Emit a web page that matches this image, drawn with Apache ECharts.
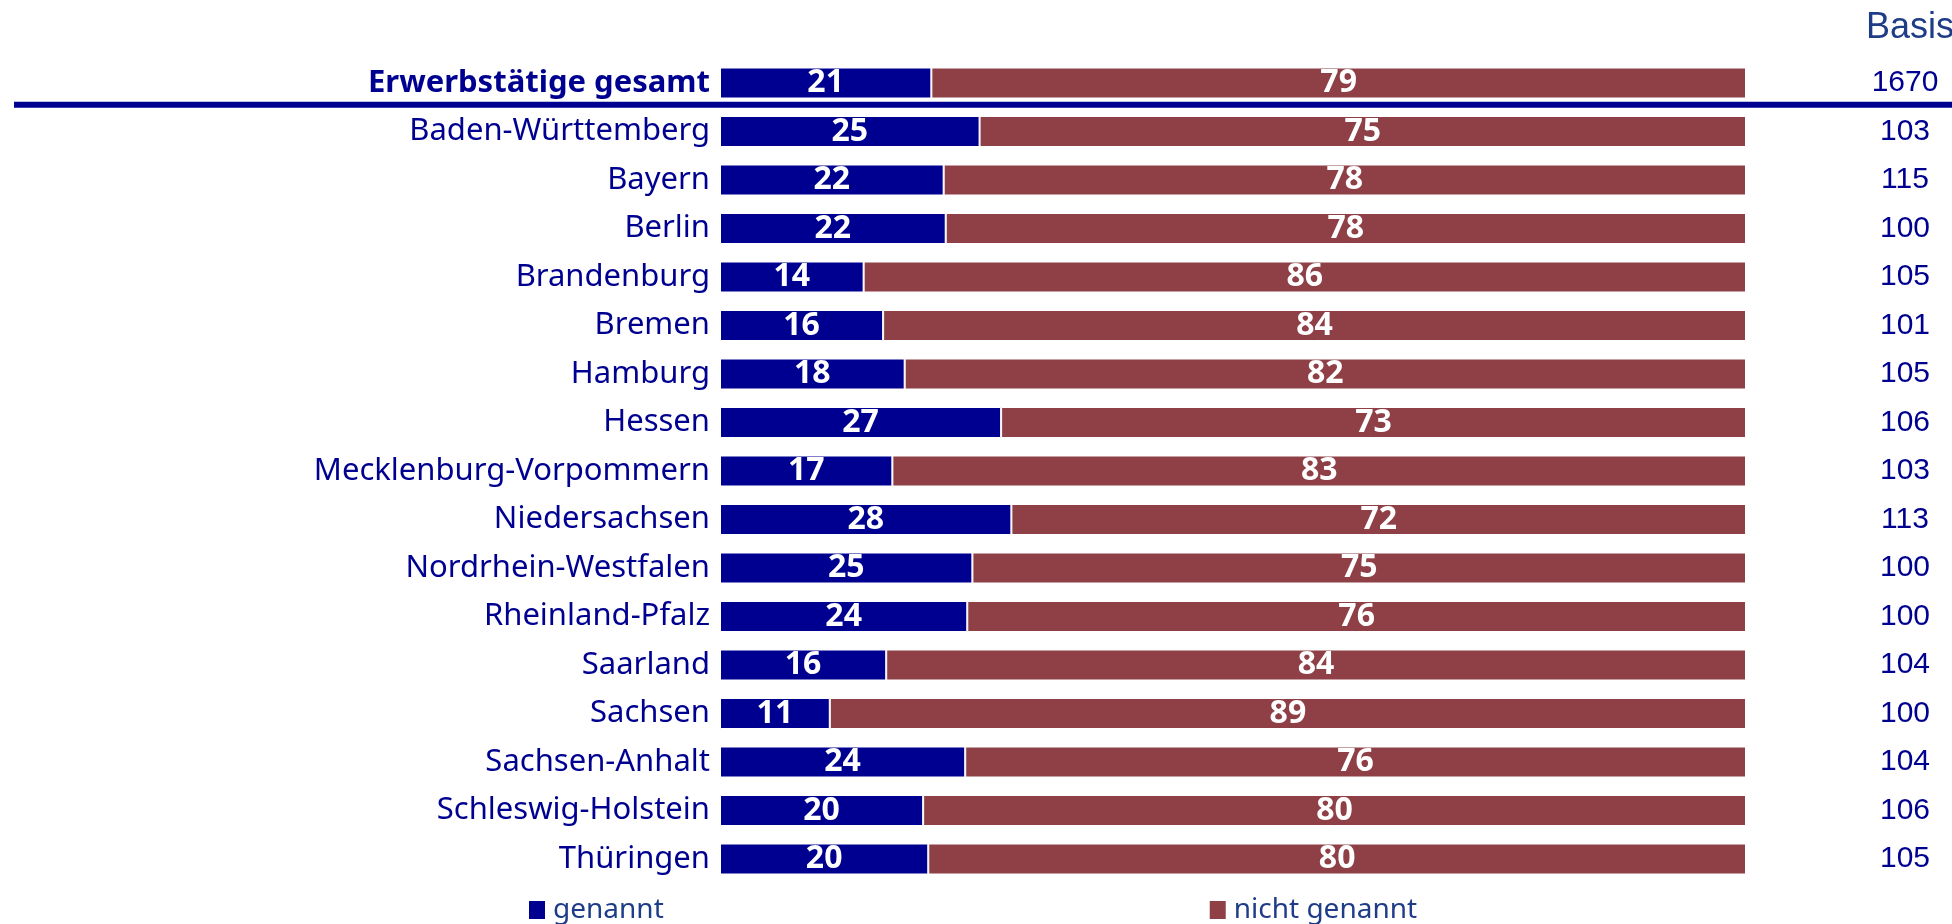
<!DOCTYPE html>
<html>
<head>
<meta charset="utf-8">
<script src="https://cdn.jsdelivr.net/npm/echarts@6/dist/echarts.min.js"></script>
<style>
html,body{margin:0;padding:0;background:#fff;}
#chart{width:1952px;height:924px;}
</style>
</head>
<body>
<div id="chart"></div>
<script>
const categories = ['Erwerbstätige gesamt','Baden-Württemberg','Bayern','Berlin','Brandenburg','Bremen','Hamburg','Hessen','Mecklenburg-Vorpommern','Niedersachsen','Nordrhein-Westfalen','Rheinland-Pfalz','Saarland','Sachsen','Sachsen-Anhalt','Schleswig-Holstein','Thüringen'];
const genannt = [20.6,25.3,21.8,22.0,14.0,15.9,18.0,27.4,16.8,28.4,24.6,24.1,16.2,10.7,23.9,19.8,20.3];
const nichtGenannt = [79.4,74.7,78.2,78.0,86.0,84.1,82.0,72.6,83.2,71.6,75.4,75.9,83.8,89.3,76.1,80.2,79.7];
const basis = ['1670','103','115','100','105','101','105','106','103','113','100','100','104','100','104','106','105'];
const seriesNames = ['genannt','nicht genannt'];

const BLUE = '#000090';
const RED = '#8E4046';
const LEGEND_BLUE = '#1F3C88';

const chart = echarts.init(document.getElementById('chart'), null, {renderer:'canvas'});

const labelStyle = {
  show: true,
  position: 'inside',
  color: '#fff',
  fontFamily: 'Noto Sans',
  fontWeight: 'bold',
  fontSize: 32,
  formatter: p => Math.round(p.value)
};

const option = {
  animation: false,
  backgroundColor: '#fff',
  title: {
    text: 'Basis',
    left: 1866,
    top: 10,
    padding: 0,
    textStyle: {fontFamily: 'Liberation Sans', fontWeight: 'normal', fontSize: 36, color: LEGEND_BLUE}
  },
  legend: {
    data: seriesNames,
    left: 529,
    top: 896,
    itemGap: 546,
    itemWidth: 16,
    itemHeight: 18,
    icon: 'rect',
    padding: 0,
    itemStyle: {borderWidth: 0},
    textStyle: {fontFamily: 'Noto Sans', fontSize: 28, color: LEGEND_BLUE, padding: [0,0,0,3]}
  },
  grid: {left: 720, right: 206, top: 58.75, bottom: 40.75, containLabel: false},
  xAxis: {type: 'value', min: 0, max: 100, show: false},
  yAxis: [
    {
      type: 'category',
      data: categories,
      inverse: true,
      axisLine: {show: false},
      axisTick: {show: false},
      axisLabel: {
        margin: 10,
        formatter: (v, i) => i === 0 ? '{b|' + v + '}' : '{n|' + v + '}',
        rich: {
          b: {fontFamily: 'Noto Sans', fontWeight: 'bold', fontSize: 31, color: BLUE},
          n: {fontFamily: 'Noto Sans', fontWeight: 'normal', fontSize: 31, color: BLUE}
        }
      }
    },
    {
      type: 'category',
      data: basis,
      inverse: true,
      position: 'right',
      axisLine: {show: false},
      axisTick: {show: false},
      axisLabel: {
        margin: 159,
        align: 'center',
        fontFamily: 'Liberation Sans',
        fontSize: 30,
        color: BLUE
      }
    }
  ],
  series: [
    {
      name: seriesNames[0],
      type: 'bar',
      stack: 'total',
      yAxisIndex: 0,
      barWidth: 31,
      data: genannt,
      itemStyle: {color: BLUE, borderColor: '#fff', borderWidth: 1},
      label: labelStyle
    },
    {
      name: seriesNames[1],
      type: 'bar',
      stack: 'total',
      yAxisIndex: 0,
      barWidth: 31,
      data: nichtGenannt,
      itemStyle: {color: RED, borderColor: '#fff', borderWidth: 1},
      label: labelStyle
    }
  ]
};
chart.setOption(option);

const y0 = chart.convertToPixel({yAxisIndex: 0}, categories[0]);
const y1 = chart.convertToPixel({yAxisIndex: 0}, categories[1]);
const yLine = (y0 + y1) / 2 - 2.5;
chart.setOption({
  graphic: [{
    type: 'line',
    shape: {x1: 14, y1: yLine, x2: 1952, y2: yLine},
    style: {stroke: BLUE, lineWidth: 6},
    z: 10
  }]
});
</script>
</body>
</html>
